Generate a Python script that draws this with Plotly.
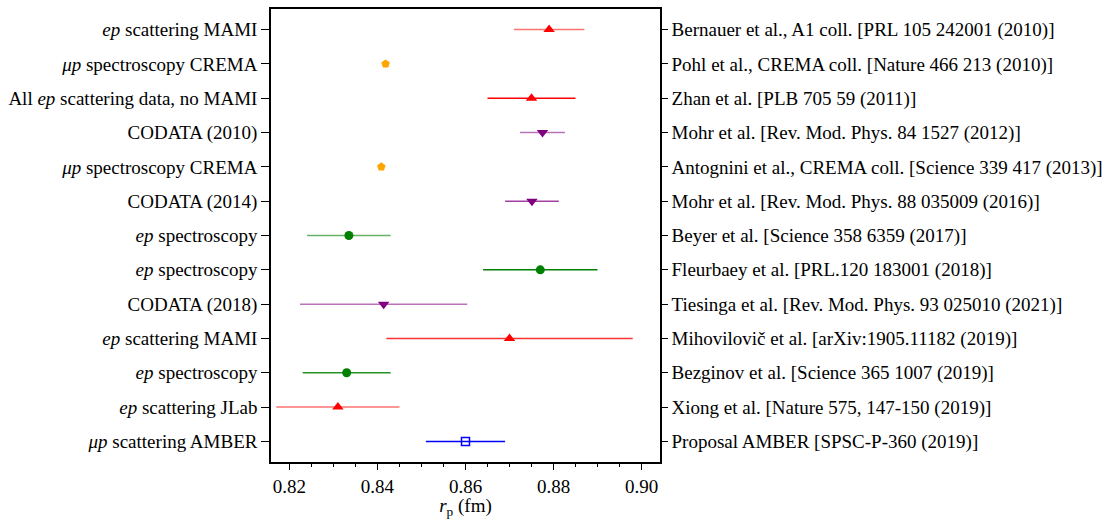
import plotly.graph_objects as go

left_labels = [
    "<i>ep</i> scattering MAMI",
    "<i>μp</i> spectroscopy CREMA",
    "All <i>ep</i> scattering data, no MAMI",
    "CODATA (2010)",
    "<i>μp</i> spectroscopy CREMA",
    "CODATA (2014)",
    "<i>ep</i> spectroscopy",
    "<i>ep</i> spectroscopy",
    "CODATA (2018)",
    "<i>ep</i> scattering MAMI",
    "<i>ep</i> spectroscopy",
    "<i>ep</i> scattering JLab",
    "<i>μp</i> scattering AMBER",
]
right_labels = [
    "Bernauer et al., A1 coll. [PRL 105 242001 (2010)]",
    "Pohl et al., CREMA coll. [Nature 466 213 (2010)]",
    "Zhan et al. [PLB 705 59 (2011)]",
    "Mohr et al. [Rev. Mod. Phys. 84 1527 (2012)]",
    "Antognini et al., CREMA coll. [Science 339 417 (2013)]",
    "Mohr et al. [Rev. Mod. Phys. 88 035009 (2016)]",
    "Beyer et al. [Science 358 6359 (2017)]",
    "Fleurbaey et al. [PRL.120 183001 (2018)]",
    "Tiesinga et al. [Rev. Mod. Phys. 93 025010 (2021)]",
    "Mihovilovič et al. [arXiv:1905.11182 (2019)]",
    "Bezginov et al. [Science 365 1007 (2019)]",
    "Xiong et al. [Nature 575, 147-150 (2019)]",
    "Proposal AMBER [SPSC-P-360 (2019)]",
]
rp_values = [0.879, 0.84184, 0.875, 0.8775, 0.84087, 0.8751, 0.8335, 0.877, 0.8414, 0.870, 0.833, 0.831, 0.860]
rp_errors = [0.008, 0.00067, 0.010, 0.0051, 0.00039, 0.0061, 0.0095, 0.013, 0.019, 0.028, 0.010, 0.014, 0.009]

styles = [
    dict(sym="triangle-up", col="red", ecol="rgba(255,0,0,0.55)", size=10),
    dict(sym="pentagon", col="orange", ecol="orange", size=9),
    dict(sym="triangle-up", col="red", ecol="red", size=10),
    dict(sym="triangle-down", col="purple", ecol="rgba(128,0,128,0.55)", size=10),
    dict(sym="pentagon", col="orange", ecol="orange", size=9),
    dict(sym="triangle-down", col="purple", ecol="rgba(128,0,128,0.75)", size=10),
    dict(sym="circle", col="green", ecol="rgba(0,128,0,0.6)", size=9),
    dict(sym="circle", col="green", ecol="green", size=9),
    dict(sym="triangle-down", col="purple", ecol="rgba(128,0,128,0.55)", size=10),
    dict(sym="triangle-up", col="red", ecol="rgba(255,0,0,0.8)", size=10),
    dict(sym="circle", col="green", ecol="rgba(0,128,0,0.85)", size=9),
    dict(sym="triangle-up", col="red", ecol="rgba(255,0,0,0.55)", size=10),
    dict(sym="square-open", col="blue", ecol="blue", size=8),
]

ypos = list(range(len(rp_values)))

fig = go.Figure()
for i, (v, e, s) in enumerate(zip(rp_values, rp_errors, styles)):
    fig.add_trace(go.Scatter(
        x=[v], y=[ypos[i]], mode="markers",
        marker=dict(symbol=s["sym"], color=s["col"], size=s["size"],
                    line=dict(width=1.5 if s["sym"].endswith("open") else 0, color=s["col"])),
        error_x=dict(type="data", array=[e], color=s["ecol"], thickness=1.5, width=0),
        showlegend=False, hoverinfo="skip",
    ))
fig.add_trace(go.Scatter(x=rp_values, y=ypos, yaxis="y2", mode="markers",
                         marker=dict(opacity=0), showlegend=False, hoverinfo="skip"))

font = dict(family="Liberation Serif", size=19, color="black")
yr = [12.6, -0.6]
fig.update_layout(
    width=1118, height=519,
    margin=dict(l=271, r=458, t=7, b=56),
    plot_bgcolor="white", paper_bgcolor="white",
    font=font,
    xaxis=dict(range=[0.8158, 0.9042], tickvals=[0.82, 0.84, 0.86, 0.88, 0.90],
               ticktext=["0.82", "0.84", "0.86", "0.88", "0.90"],
               showline=True, linecolor="black", linewidth=1.5, mirror=True,
               ticks="outside", ticklen=6, tickwidth=1.2, tickcolor="black",
               minor=dict(dtick=0.005, tick0=0.8, ticks="outside", ticklen=3.5, tickwidth=1, tickcolor="black"),
               showgrid=False, zeroline=False,
               title=dict(text="<i>r</i><sub>p</sub> (fm)", font=font, standoff=2)),
    yaxis=dict(range=yr, tickvals=ypos, ticktext=left_labels,
               showline=True, linecolor="black", linewidth=1.5,
               ticks="outside", ticklen=8, tickwidth=1.2, tickcolor="black",
               showgrid=False, zeroline=False),
    yaxis2=dict(range=yr, tickvals=ypos, ticktext=right_labels, overlaying="y", side="right",
                showline=True, linecolor="black", linewidth=1.5,
                ticks="outside", ticklen=6, tickwidth=1.2, tickcolor="black",
                showgrid=False, zeroline=False),
)
fig.write_html("out.html", config={"displayModeBar": False},
               post_script="document.body.style.margin='0';")
